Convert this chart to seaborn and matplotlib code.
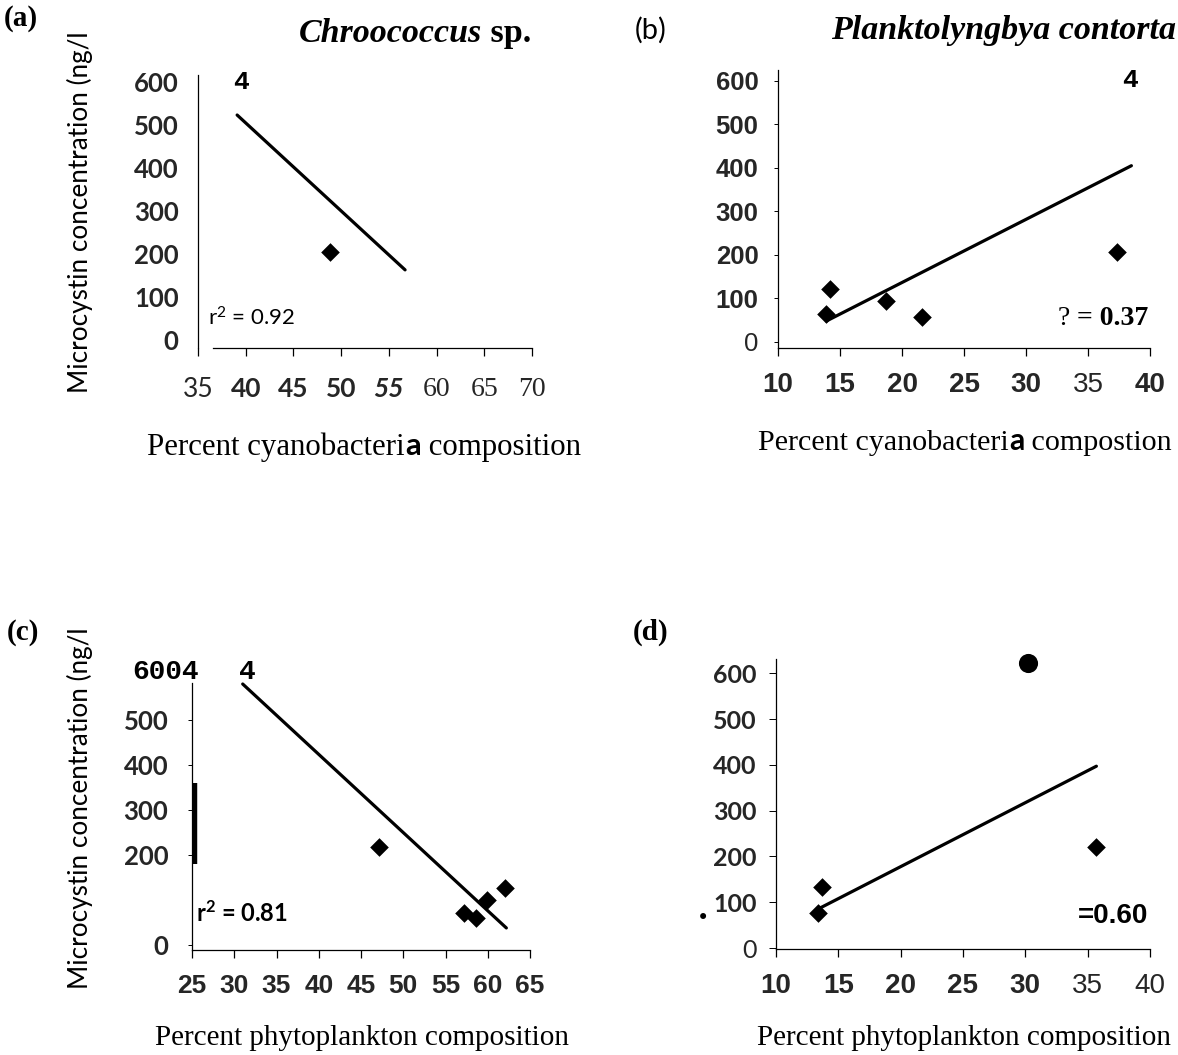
import matplotlib
matplotlib.use("Agg")
import matplotlib.pyplot as plt
import seaborn as sns

sns.set_theme(style="white")
plt.rcParams["mathtext.default"] = "regular"

W, H = 1178, 1055

GILL = ["Lato", "DejaVu Sans"]
ARIAL = ["Liberation Sans", "DejaVu Sans"]
SERIF = ["Liberation Serif", "DejaVu Serif"]
MONO = ["Liberation Mono", "DejaVu Sans Mono"]

# (a) Chroococcus sp.
a_x = [48.8]
a_y = [205]
a_fit_x = [39.1, 56.7]
a_fit_y = [523, 163]
a_xticks = [35, 40, 45, 50, 55, 60, 65, 70]
a_yticks = [0, 100, 200, 300, 400, 500, 600]

# (b) Planktolyngbya contorta
b_x = [13.9, 14.2, 18.7, 21.6, 37.3]
b_y = [64, 122, 94, 57, 207]
b_fit_x = [13.9, 38.5]
b_fit_y = [48, 405]
b_xticks = [10, 15, 20, 25, 30, 35, 40]
b_yticks = [0, 100, 200, 300, 400, 500, 600]

# (c) phytoplankton, Chroococcus
c_x = [47.1, 57.2, 58.6, 59.9, 62.0]
c_y = [218, 71, 60, 100, 127]
c_fit_x = [31.0, 62.2]
c_fit_y = [580, 38]
c_xticks = [25, 30, 35, 40, 45, 50, 55, 60, 65]
c_yticks = [0, 200, 300, 400, 500]

# (d) phytoplankton, Planktolyngbya
d_x = [13.4, 13.7, 35.7]
d_y = [76, 133, 220]
d_out_x = [30.2]
d_out_y = [622]
d_fit_x = [13.5, 35.7]
d_fit_y = [87, 397]
d_xticks = [10, 15, 20, 25, 30, 35, 40]
d_yticks = [0, 100, 200, 300, 400, 500, 600]

fig = plt.figure(figsize=(W / 100, H / 100), dpi=100)
fig.patch.set_facecolor("white")


def place(l, t, r, b, xlim, ylim):
    ax = fig.add_axes([l / W, 1 - b / H, (r - l) / W, (b - t) / H])
    ax.set_facecolor("none")
    ax.set_xlim(*xlim)
    ax.set_ylim(*ylim)
    sns.despine(ax=ax)
    for s in ["left", "bottom"]:
        ax.spines[s].set_color("black")
        ax.spines[s].set_linewidth(0.9)
    ax.tick_params(axis="x", direction="out", length=6, width=0.9, color="black",
                   bottom=True, pad=11)
    ax.tick_params(axis="y", direction="out", length=0, color="black", left=True, pad=14)
    return ax


def txt(x, y, s, **kw):
    kw.setdefault("color", "black")
    return fig.text(x / W, 1 - y / H, s, **kw)


def rich(x, y, pieces, ha="left", size=20):
    r = fig.canvas.get_renderer()
    texts = [txt(0, y, s, va="baseline", size=size, **kw) for s, kw in pieces]
    widths = [t.get_window_extent(r).width for t in texts]
    total = sum(widths)
    x0 = {"left": x, "right": x - total, "center": x - total / 2}[ha]
    for t, w in zip(texts, widths):
        t.set_x(x0 / W)
        x0 += w


def points(ax, xs, ys, marker="D", s=90):
    sns.scatterplot(x=xs, y=ys, ax=ax, marker=marker, s=s, color="black",
                    edgecolor="black", linewidth=0, zorder=3, clip_on=False)


def fit(ax, xs, ys):
    sns.lineplot(x=xs, y=ys, ax=ax, color="black", linewidth=2.3, zorder=2)


def style_labels(labels, family, size, weight="bold", normal=()):
    for lab in labels:
        lab.set_family(family)
        lab.set_size(size)
        lab.set_weight("normal" if lab.get_text() in normal else weight)


# ---------- (a)
ax = place(198, 75, 532, 348, (35, 70), (-18.6, 616))
points(ax, a_x, a_y)
fit(ax, a_fit_x, a_fit_y)
ax.set_xticks(a_xticks, labels=[str(v) for v in a_xticks])
ax.set_yticks(a_yticks, labels=[str(v) for v in a_yticks])
ax.spines["bottom"].set_bounds(36.6, 70)
ax.tick_params(axis="x", pad=15)
for lab, v in zip(ax.get_xticklabels(), a_xticks):
    if v >= 60:
        lab.set_family(SERIF)
        lab.set_size(20)
    else:
        lab.set_family(GILL)
        lab.set_size(19)
        lab.set_weight("normal" if v == 35 else "bold")
    if v == 55:
        lab.set_style("italic")
style_labels(ax.get_yticklabels(), GILL, 18.5)

# ---------- (b)
ax = place(778, 70, 1150, 348, (10, 40), (-14, 625))
points(ax, b_x, b_y)
fit(ax, b_fit_x, b_fit_y)
ax.set_xticks(b_xticks, labels=[str(v) for v in b_xticks])
ax.set_yticks(b_yticks, labels=[str(v) for v in b_yticks])
ax.tick_params(axis="y", length=3, width=0.7, pad=11)
style_labels(ax.get_xticklabels(), ARIAL, 20, normal=("35",))
style_labels(ax.get_yticklabels(), ARIAL, 18.5, normal=("0",))

# ---------- (c)
ax = place(192, 666, 530, 950, (25, 65), (-11, 620))
points(ax, c_x, c_y)
fit(ax, c_fit_x, c_fit_y)
ax.set_xticks(c_xticks, labels=[str(v) for v in c_xticks])
ax.set_yticks(c_yticks, labels=[str(v) for v in c_yticks])
ax.spines["left"].set_bounds(-11, 582)
ax.tick_params(axis="y", length=3, width=0.7, pad=14)
ax.plot([0.01, 0.01], [180, 360], transform=ax.get_yaxis_transform(),
        color="black", linewidth=3.2, solid_capstyle="butt", clip_on=False)
style_labels(ax.get_xticklabels(), ARIAL, 19)
style_labels(ax.get_yticklabels(), GILL, 18.5)

# ---------- (d)
ax = place(776, 659, 1150, 949, (10, 40), (-2, 631))
points(ax, d_x, d_y)
points(ax, d_out_x, d_out_y, marker="o", s=190)
fit(ax, d_fit_x, d_fit_y)
ax.set_xticks(d_xticks, labels=[str(v) for v in d_xticks])
ax.set_yticks(d_yticks, labels=[str(v) for v in d_yticks])
ax.tick_params(axis="y", length=5, width=0.7, pad=9)
style_labels(ax.get_xticklabels(), ARIAL, 20, normal=("35", "40"))
style_labels(ax.get_yticklabels(), GILL, 18, normal=("0",))

# ---------- panel letters and titles
txt(4, 18, "(a)", family=SERIF, weight="bold", size=21, va="center", ha="left")
txt(635, 30, "(b)", family=GILL, size=21, va="center", ha="left")
txt(7, 632, "(c)", family=SERIF, weight="bold", size=21, va="center", ha="left")
txt(633, 632, "(d)", family=SERIF, weight="bold", size=21, va="center", ha="left")

rich(531, 42, [("Chroococcus", dict(family=SERIF, weight="bold", style="italic")),
               (" sp.", dict(family=SERIF, weight="bold"))], ha="right", size=24.5)
rich(1176, 39, [("Planktolyngbya contorta",
                 dict(family=SERIF, weight="bold", style="italic"))], ha="right", size=24.5)

# y labels
for yc in (212, 808):
    txt(80, yc, "Microcystin concentration (ng/l", family=GILL, size=18.8,
        rotation=90, ha="center", va="center")

# x labels
rich(364, 455, [("Percent cyanobacteri", dict(family=SERIF)),
                ("a", dict(family=GILL, weight="bold")),
                (" composition", dict(family=SERIF))], ha="center", size=22.2)
rich(965, 450, [("Percent cyanobacteri", dict(family=SERIF)),
                ("a", dict(family=GILL, weight="bold")),
                (" compostion", dict(family=SERIF))], ha="center", size=21.6)
rich(362, 1045, [("Percent phytoplankton composition", dict(family=SERIF))],
     ha="center", size=21)
rich(964, 1045, [("Percent phytoplankton composition", dict(family=SERIF))],
     ha="center", size=21)

# in-plot annotations
txt(241, 82, "4", family=MONO, weight="bold", size=19, ha="center", va="center")
txt(1130, 80, "4", family=MONO, weight="bold", size=19, ha="center", va="center")
txt(199, 672, "6004", family=MONO, weight="bold", size=20, ha="right", va="center")
txt(247, 672, "4", family=MONO, weight="bold", size=20, ha="center", va="center")

txt(208, 318, "r$^2$ = 0.92", family=GILL, size=16, ha="left", va="center")
txt(196, 913, "r$^2$ = 0.81", family=GILL, weight="bold", size=17,
    ha="left", va="center")
rich(1148, 325, [("? ", dict(family=SERIF)),
                 ("= 0.37", dict(family=SERIF, weight="bold"))], ha="right", size=20)
txt(1148, 916, "=0.60", family=ARIAL, weight="bold",
    size=20, ha="right", va="center")
txt(703, 918, "\u2022", family=["DejaVu Sans"], size=15, ha="center", va="center")

fig.savefig("out.png", dpi=100, facecolor="white")
